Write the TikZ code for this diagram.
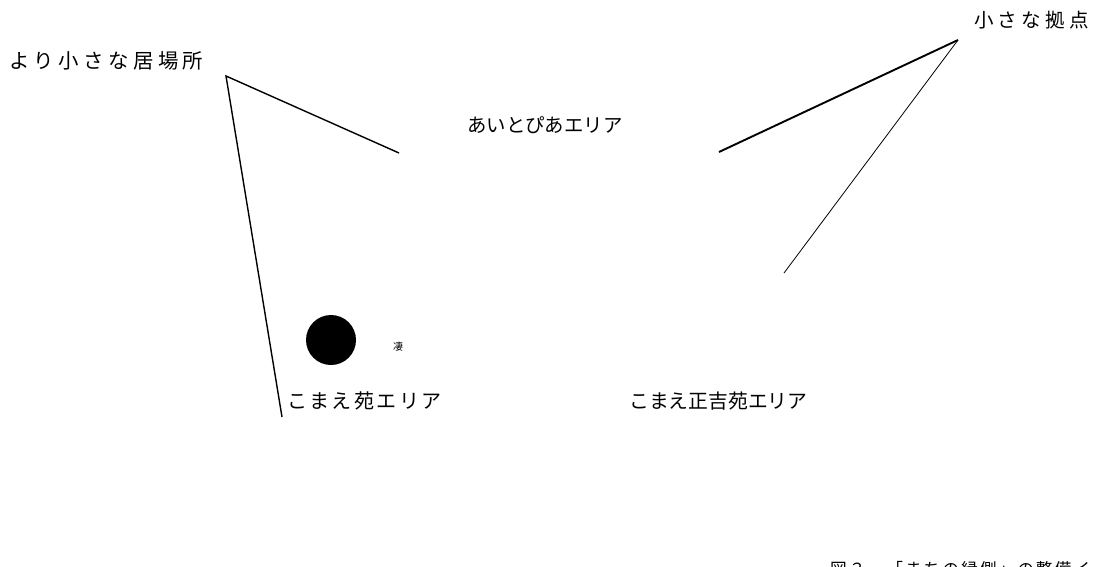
\documentclass[tikz,border=0pt]{standalone}
\usepackage{fontspec}
\setmainfont{Noto Sans CJK JP}
\newfontfamily\jpspaced[LetterSpace=22]{Noto Sans CJK JP}
\newfontfamily\jpmid[LetterSpace=12]{Noto Sans CJK JP}
\newfontfamily\jpfont{Noto Sans CJK JP}
\begin{document}
\begin{tikzpicture}[x=1pt,y=-1pt,
  lbl/.style={inner sep=0pt, anchor=west, text=black},
  thin line/.style={draw=black, line width=0.8pt},
  mid line/.style={draw=black, line width=1.4pt},
  thick line/.style={draw=black, line width=1.9pt}]
\useasboundingbox (0,0) rectangle (1094,567);
\clip (0,0) rectangle (1094,567);
\fill[white] (0,0) rectangle (1094,567);

\node[lbl, font={\jpspaced\fontsize{20.4}{20}\selectfont}] (small) at (9,61) {より小さな居場所};
\node[lbl, font={\jpspaced\fontsize{19.5}{20}\selectfont}] (hub) at (974,20) {小さな拠点};
\node[lbl, font={\jpfont\fontsize{19.4}{20}\selectfont}] (aito) at (467,125) {あいとぴあエリア};
\node[lbl, font={\jpmid\fontsize{20}{20}\selectfont}] (koma) at (287,401) {こまえ苑エリア};
\node[lbl, font={\jpfont\fontsize{19.8}{20}\selectfont}] (shokichi) at (629,401) {こまえ正吉苑エリア};
\node[lbl, font={\jpmid\fontsize{16.7}{17}\selectfont}] (cap) at (830,569) {図３　「まちの縁側」の整備イ};

\coordinate (lv) at (226,76);
\coordinate (la) at (399,153);
\coordinate (lb) at (282,417);
\coordinate (rv) at (958,40);
\coordinate (ra) at (719,152);
\coordinate (rb) at (784,273);

\draw[mid line] (la) -- (lv) -- (lb);
\draw[thick line] (ra) -- (rv);
\draw[thin line] (rv) -- (rb);

\node[circle, fill=black, minimum size=50pt, inner sep=0pt] (dot) at (331,340) {};
\node[inner sep=0pt, font={\jpfont\fontsize{10}{10}\selectfont}] (mark) at (398,347) {凄};
\end{tikzpicture}
\end{document}
